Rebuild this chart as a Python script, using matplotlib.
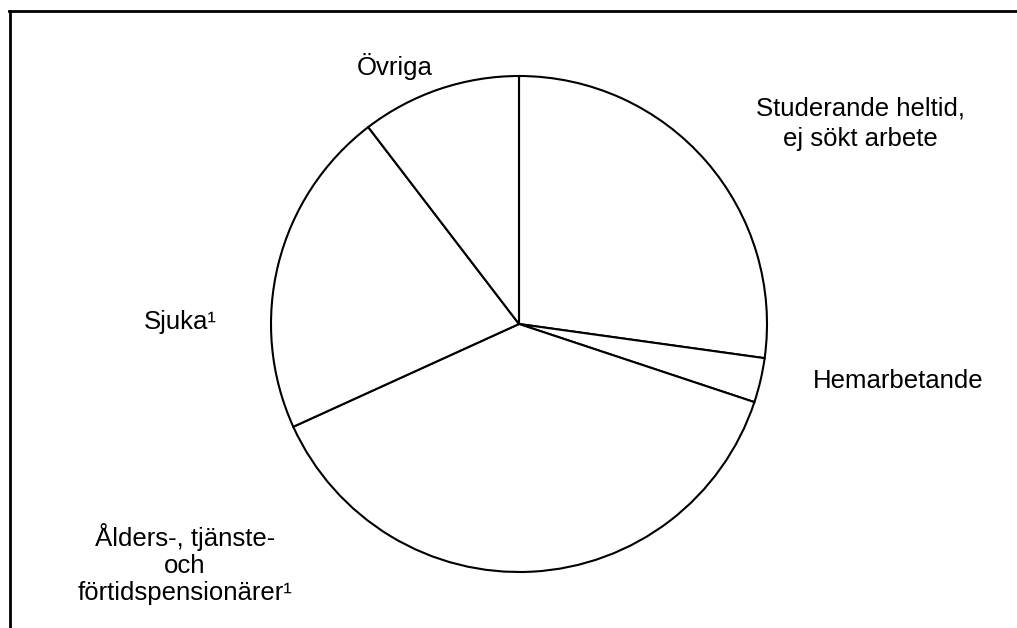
# Pie chart: population outside the labour force, by category
import matplotlib.pyplot as plt

labels = ['Studerande heltid,\nej sökt arbete', 'Hemarbetande',
          'Ålders-, tjänste-\noch\nförtidspensionärer¹', 'Sjuka¹', 'Övriga']
shares = [27.2, 2.9, 38.1, 21.4, 10.4]

plt.rcParams['font.family'] = ['Liberation Sans', 'DejaVu Sans']

fig = plt.figure(figsize=(10.17, 6.28), dpi=100)
ax = fig.add_axes([0, 0, 1, 1])
ax.set_xlim(0, 1017)
ax.set_ylim(0, 628)
ax.set_aspect('equal')
ax.axis('off')

ax.pie(shares, startangle=90, counterclock=False, center=(519, 304), radius=248,
       colors=['white'] * len(shares),
       wedgeprops=dict(edgecolor='black', linewidth=1.5))
ax.set_xlim(0, 1017)
ax.set_ylim(0, 628)

# label positions (px from top-left) and line spacing
label_pos = [(860, 124), (898, 381), (185, 564), (180, 322), (395, 66)]
spacing = [1.36, 1.2, 1.15, 1.2, 1.2]
for lab, (x, y), ls in zip(labels, label_pos, spacing):
    ax.text(x, 628 - y, lab, ha='center', va='center', fontsize=18.5,
            linespacing=ls)

# frame (top and left edges visible)
ax.plot([9, 1017], [628 - 11, 628 - 11], color='black', lw=2, clip_on=False)
ax.plot([10, 10], [628 - 11, 0], color='black', lw=2, clip_on=False)

fig.savefig('out.png', dpi=100, facecolor='white')
